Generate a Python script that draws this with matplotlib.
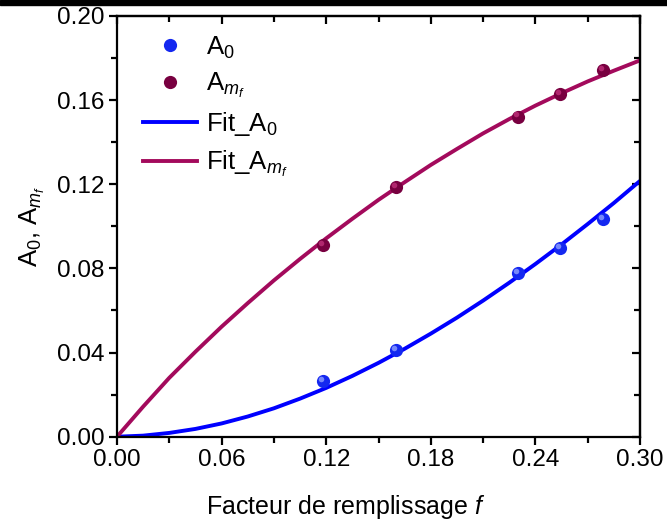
import matplotlib
matplotlib.use("Agg")
import matplotlib.pyplot as plt
from matplotlib.ticker import MultipleLocator, FormatStrFormatter
from matplotlib.transforms import ScaledTranslation
from matplotlib.patches import Rectangle
from matplotlib.lines import Line2D

plt.rcParams['font.family'] = ['Liberation Sans', 'DejaVu Sans']
plt.rcParams['mathtext.fontset'] = 'custom'
plt.rcParams['mathtext.rm'] = 'Liberation Sans'
plt.rcParams['mathtext.it'] = 'Liberation Sans:italic'
plt.rcParams['mathtext.bf'] = 'Liberation Sans:bold'

# measured points
f_pts = [0.118, 0.160, 0.230, 0.254, 0.279]
A0_pts = [0.0265, 0.0412, 0.0776, 0.0895, 0.1034]
Amf_pts = [0.0910, 0.1188, 0.1522, 0.1631, 0.1745]

# fit curves
f_fit = [0.0, 0.015, 0.03, 0.045, 0.06, 0.075, 0.09, 0.105, 0.12, 0.135, 0.15,
         0.165, 0.18, 0.195, 0.21, 0.225, 0.24, 0.255, 0.27, 0.285, 0.30]
A0_fit = [0.0, 0.0005, 0.0018, 0.0037, 0.0063, 0.0096, 0.0135, 0.0181, 0.0232, 0.0289, 0.0351,
          0.0418, 0.0490, 0.0566, 0.0647, 0.0732, 0.0821, 0.0914, 0.1011, 0.1111, 0.1216]
Amf_fit = [0.0, 0.0143, 0.0280, 0.0404, 0.0523, 0.0635, 0.0743, 0.0845, 0.0943, 0.1036, 0.1126,
           0.1210, 0.1292, 0.1368, 0.1442, 0.1510, 0.1574, 0.1633, 0.1689, 0.1740, 0.1789]

blue_line = '#0000FF'
mf_line = '#A30A5C'
blue_mk = '#1428F0'
mf_mk = '#780040'

fig = plt.figure(figsize=(6.67, 5.24), dpi=100)
fig.patches.append(Rectangle((0, 1 - 5 / 524), 1, 5 / 524, transform=fig.transFigure,
                             color='black', zorder=10))
ax = fig.add_axes([117 / 667, 1 - 436.7 / 524, (640 - 117) / 667, (436.7 - 16) / 524])

ax.plot(f_fit, A0_fit, color=blue_line, lw=2.8, solid_capstyle='butt', zorder=2)
ax.plot(f_fit, Amf_fit, color=mf_line, lw=2.8, solid_capstyle='butt', zorder=2)

hl = ax.transData + ScaledTranslation(-1.5 / 72, 1.5 / 72, fig.dpi_scale_trans)
ax.plot(f_pts, A0_pts, 'o', ms=9.5, color=blue_mk, mec='none', zorder=3, clip_on=False)
ax.plot(f_pts, A0_pts, 'o', ms=4, color='#8FA0FF', mec='none', zorder=4, transform=hl, alpha=0.8)
ax.plot(f_pts, Amf_pts, 'o', ms=9.5, color=mf_mk, mec='none', zorder=3, clip_on=False)
ax.plot(f_pts, Amf_pts, 'o', ms=4, color='#C0307A', mec='none', zorder=4, transform=hl, alpha=0.8)

ax.set_xlim(0, 0.30)
ax.set_ylim(0, 0.20)
ax.xaxis.set_major_locator(MultipleLocator(0.06))
ax.xaxis.set_minor_locator(MultipleLocator(0.03))
ax.yaxis.set_major_locator(MultipleLocator(0.04))
ax.yaxis.set_minor_locator(MultipleLocator(0.02))
ax.xaxis.set_major_formatter(FormatStrFormatter('%.2f'))
ax.yaxis.set_major_formatter(FormatStrFormatter('%.2f'))

for s in ax.spines.values():
    s.set_linewidth(1.6)
ax.tick_params(which='major', direction='out', length=6, width=1.6, labelsize=17.5, pad=3)
ax.tick_params(which='minor', direction='out', length=4, width=1.6)

top = ax.secondary_xaxis('top')
top.xaxis.set_major_locator(MultipleLocator(0.06))
top.xaxis.set_minor_locator(MultipleLocator(0.03))
top.tick_params(which='major', direction='in', length=6, width=1.6, labeltop=False)
top.tick_params(which='minor', direction='in', length=4, width=1.6)
right = ax.secondary_yaxis('right')
right.yaxis.set_major_locator(MultipleLocator(0.04))
right.yaxis.set_minor_locator(MultipleLocator(0.02))
right.tick_params(which='major', direction='in', length=6, width=1.6, labelright=False)
right.tick_params(which='minor', direction='in', length=4, width=1.6)
for s in list(top.spines.values()) + list(right.spines.values()):
    s.set_linewidth(1.6)

ax.set_xlabel('Facteur de remplissage $\\mathit{f}$', fontsize=18)
ax.xaxis.set_label_coords(0.438, -0.133)
ax.set_ylabel('A$_0$, A$_{m_\\mathit{f}}$', fontsize=18.5, labelpad=7)

handles = [
    Line2D([], [], ls='none', marker='o', ms=9.5, color=blue_mk, mec='none'),
    Line2D([], [], ls='none', marker='o', ms=9.5, color=mf_mk, mec='none'),
    Line2D([], [], color=blue_line, lw=2.8),
    Line2D([], [], color=mf_line, lw=2.8),
]
labels = ['A$_0$', 'A$_{m_\\mathit{f}}$', 'Fit_A$_0$', 'Fit_A$_{m_\\mathit{f}}$']
ax.legend(handles, labels, loc='upper left', bbox_to_anchor=(0.02, 0.993), frameon=False,
          fontsize=18.5, handlelength=2.1, handletextpad=0.35, labelspacing=0.4,
          borderaxespad=0.2)

fig.savefig('out.png', dpi=100)
